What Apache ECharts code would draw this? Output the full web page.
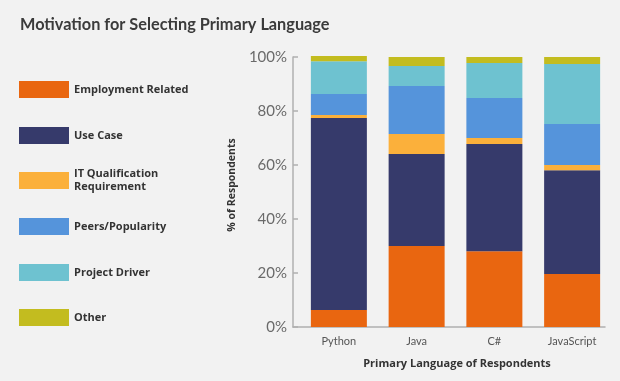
<!DOCTYPE html>
<html><head><meta charset="utf-8">
<script src="https://cdn.jsdelivr.net/npm/echarts@6/dist/echarts.min.js"></script>
<style>html,body{margin:0;padding:0;background:#f2f2f2}#c{width:620px;height:381px}</style>
</head><body><div id="c"></div>
<script>
const categories = ['Python', 'Java', 'C#', 'JavaScript'];
const seriesNames = ['Employment Related', 'Use Case', 'IT Qualification\nRequirement', 'Peers/Popularity', 'Project Driver', 'Other'];
const employment = [6.3, 30.0, 28.1, 19.6];
const useCase = [71.1, 34.1, 39.7, 38.5];
const itQual = [1.1, 7.4, 2.2, 1.9];
const peers = [7.8, 17.8, 14.8, 15.2];
const project = [12.1, 7.4, 13.0, 22.2];
const other = [2.0, 3.3, 2.2, 2.6];
const yTicks = [0, 20, 40, 60, 80, 100];

const values = [employment, useCase, itQual, peers, project, other];
const colors = ['#e96610', '#363a6b', '#fbb03b', '#5594db', '#6ec2d0', '#c3bc1f'];
const legendCenters = [89.5, 135.5, 180.5, 226.5, 272.5, 317.5];
const font = 'Lato, "Open Sans", sans-serif';
const boldFont = '"Open Sans", Lato, sans-serif';

const chart = echarts.init(document.getElementById('c'));
chart.setOption({
  backgroundColor: '#f2f2f2',
  animation: false,
  title: {
    text: 'Motivation for Selecting Primary Language',
    left: 15, top: 12,
    textStyle: { fontFamily: font, fontSize: 16.3, fontWeight: 'bold', color: '#3b3b3b' }
  },
  legend: seriesNames.map((n, i) => {
    const h = n.indexOf('\n') >= 0 ? 26 : 17;
    return {
      data: [n], left: 19, top: legendCenters[i] - h / 2,
      itemWidth: 50, itemHeight: 17, itemGap: 5, icon: 'rect',
      selectedMode: false, padding: 0,
      textStyle: { fontFamily: boldFont, fontSize: 11, fontWeight: 'bold', color: '#333', lineHeight: 13 }
    };
  }),
  grid: [
    { left: 300, top: 57, width: 311, height: 270 },
    { left: 293, top: 57, width: 312, height: 270 }
  ],
  xAxis: [
    { type: 'category', gridIndex: 0, data: categories,
      axisLine: { show: false }, axisTick: { show: false },
      axisLabel: { margin: 9, fontFamily: font, fontSize: 11, color: '#555' } },
    { type: 'value', gridIndex: 1, min: 0, max: 1,
      name: 'Primary Language of Respondents', nameLocation: 'middle', nameGap: 31,
      nameTextStyle: { fontFamily: boldFont, fontSize: 11, fontWeight: 'bold', color: '#333', padding: [0, 0, 0, 16] },
      axisLine: { show: true, lineStyle: { color: '#b0b0b0', width: 1.5 } },
      axisTick: { show: false }, axisLabel: { show: false }, splitLine: { show: false } }
  ],
  yAxis: [
    { type: 'value', gridIndex: 0, min: 0, max: 100, show: false },
    { type: 'value', gridIndex: 1, min: yTicks[0], max: yTicks[yTicks.length - 1], interval: 20,
      name: '% of Respondents', nameLocation: 'middle', nameGap: 53, nameRotate: 90,
      nameTextStyle: { fontFamily: boldFont, fontSize: 10.5, fontWeight: 'bold', color: '#333', padding: [0, 0, 0, 14] },
      axisLine: { show: true, lineStyle: { color: '#b0b0b0', width: 1.5 } },
      axisTick: { show: true, inside: true, length: 5, lineStyle: { color: '#b0b0b0', width: 1.5 } },
      axisLabel: { margin: 6, fontFamily: font, fontSize: 15, color: '#6a6a6a', formatter: v => v + '%' },
      splitLine: { show: false } }
  ],
  series: seriesNames.map((n, i) => ({
    name: n, type: 'bar', stack: 'total', xAxisIndex: 0, yAxisIndex: 0,
    data: values[i], barWidth: 56, clip: false,
    itemStyle: { color: colors[i] }
  }))
});
</script></body></html>
